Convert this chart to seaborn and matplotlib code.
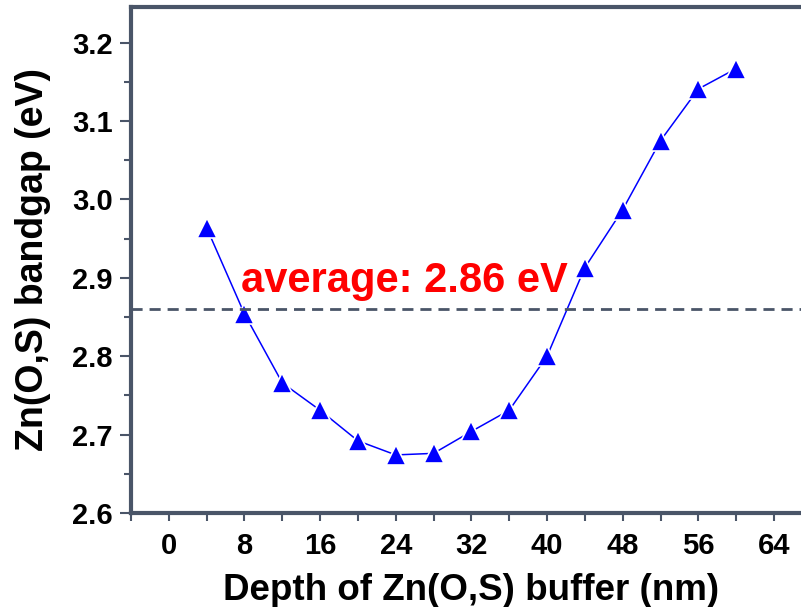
import matplotlib
matplotlib.use("Agg")
import matplotlib.pyplot as plt
from matplotlib.ticker import MultipleLocator
import seaborn as sns
import pandas as pd

# Bandgap profile through the Zn(O,S) buffer layer
depth_nm = [4, 8, 12, 16, 20, 24, 28, 32, 36, 40, 44, 48, 52, 56, 60]
bandgap_ev = [2.964, 2.854, 2.766, 2.731, 2.692, 2.674, 2.676, 2.704,
              2.731, 2.800, 2.913, 2.987, 3.075, 3.141, 3.167]
average_ev = 2.86
x_ticks = [0, 8, 16, 24, 32, 40, 48, 56, 64]
y_ticks = [2.6, 2.7, 2.8, 2.9, 3.0, 3.1, 3.2]

sns.set_theme(style="white")
plt.rcParams["font.family"] = ["Liberation Sans", "DejaVu Sans"]
plt.rcParams["font.weight"] = "bold"
plt.rcParams["text.color"] = "black"
plt.rcParams["axes.labelcolor"] = "black"
plt.rcParams["xtick.labelcolor"] = "black"
plt.rcParams["ytick.labelcolor"] = "black"

spine_col = "#4a5568"
df = pd.DataFrame({"depth": depth_nm, "gap": bandgap_ev})

fig = plt.figure(figsize=(8.01, 6.07), dpi=100)
ax = fig.add_axes([0.1635, 0.155, 0.85, 0.834])

sns.lineplot(data=df, x="depth", y="gap", ax=ax, color="#0000ff",
             linewidth=1.1, marker="^", markersize=14,
             markerfacecolor="#0000ff", markeredgecolor="white",
             markeredgewidth=1.2)

ax.axhline(average_ev, color=spine_col, linestyle=(0, (4, 2.5)), linewidth=2)
ax.text(7.6, 2.882, f"average: {average_ev:.2f} eV", color="#ff0000",
        fontsize=30, fontweight="bold", ha="left", va="baseline")

ax.set_xlim(-4, 68)
ax.set_ylim(2.6, 3.246)
ax.set_xticks(x_ticks)
ax.set_yticks(y_ticks)
ax.set_yticklabels([f"{v:.1f}" for v in y_ticks])
ax.xaxis.set_minor_locator(MultipleLocator(4))
ax.yaxis.set_minor_locator(MultipleLocator(0.05))

for side in ["left", "top", "bottom", "right"]:
    ax.spines[side].set_color(spine_col)
    ax.spines[side].set_linewidth(3)

ax.tick_params(axis="both", which="major", direction="out", length=8,
               width=1.5, color=spine_col, labelsize=21, pad=5,
               bottom=True, left=True)
ax.tick_params(axis="both", which="minor", direction="out", length=5,
               width=1.5, color=spine_col, bottom=True, left=True)
ax.tick_params(axis="x", which="minor", length=6)
ax.tick_params(axis="x", which="major", length=6, pad=8)

ax.set_xlabel("Depth of Zn(O,S) buffer (nm)", fontsize=26.5,
              fontweight="bold", labelpad=9)
ax.set_ylabel("Zn(O,S) bandgap (eV)", fontsize=27, fontweight="bold",
              labelpad=15)
for lbl in ax.get_xticklabels() + ax.get_yticklabels():
    lbl.set_fontweight("bold")

fig.savefig("out.png", dpi=100)
